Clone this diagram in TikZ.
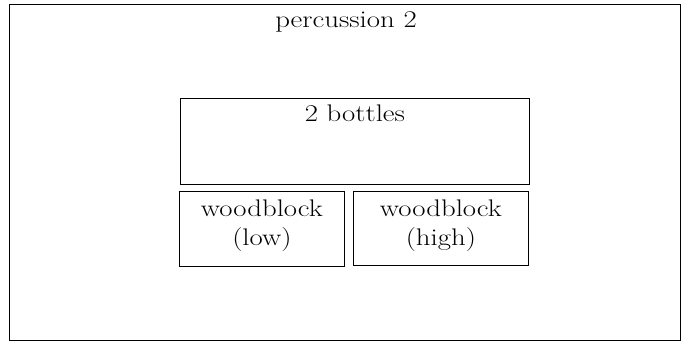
\documentclass[tikz,border=0pt]{standalone}
\usepackage{fontspec}
\setmainfont{Latin Modern Roman}[FakeStretch=1.2]
\usepackage{xcolor}
\usepackage{tikz}
\usetikzlibrary{calc}
\definecolor{line}{HTML}{000000}
\definecolor{text}{HTML}{000000}
\tikzset{
  outerbox/.style={draw=line, line width=1.1pt, fill=white},
  ibox/.style={draw=line, line width=0.8pt, inner sep=0pt, anchor=north west},
  lab/.style={text=text, anchor=base, align=center, font=\fontsize{24}{29}\selectfont}
}
\begin{document}
\begin{tikzpicture}[x=1pt, y=-1pt]
  \useasboundingbox (0,0) rectangle (691,343);
  \draw[outerbox] (9.5,4.5) rectangle (680.5,340.5);
  \node[lab] (perc) at (346,27) {percussion 2};

  % instrument boxes
  \node[ibox, minimum width=349pt, minimum height=86pt] (bottles) at (180,97.5) {};
  \node[ibox, minimum width=165pt, minimum height=75pt] (wblow) at (179,190.5) {};
  \node[ibox, minimum width=175pt, minimum height=74pt] (wbhigh) at (353,190.5) {};

  % labels sit on their last baseline
  \node[lab] (bottleslab) at ($(bottles.north)+(0,23.5)$) {2 bottles};
  \node[lab] (wblowlab) at ($(wblow.north)+(0,54.5)$) {woodblock\\(low)};
  \node[lab] (wbhighlab) at ($(wbhigh.north)+(0,54.5)$) {woodblock\\(high)};
\end{tikzpicture}
\end{document}
